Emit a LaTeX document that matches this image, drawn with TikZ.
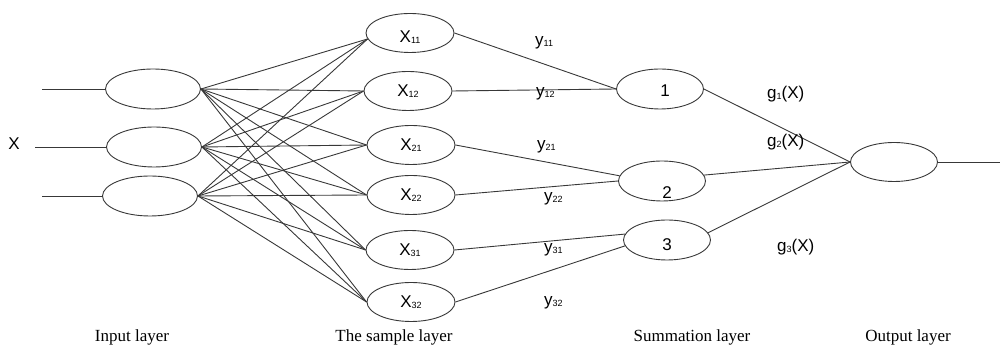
\documentclass[tikz,border=0pt]{standalone}
\usepackage{fontspec}
\setmainfont{Liberation Serif}
\setsansfont{Liberation Sans}
\usetikzlibrary{shapes.geometric}
\newcommand{\smallsub}[1]{\raisebox{-0.5pt}{\fontsize{9}{9}\selectfont #1}}
\newcommand{\lowtext}[2]{\raisebox{#1}[0pt][0pt]{#2}}
\tikzset{
  ln/.style={draw=black!78, line width=0.9pt},
  ell/.style={ellipse, draw=black!78, line width=0.9pt, inner sep=0pt, font=\sffamily\fontsize{17}{17}\selectfont},
  inell/.style={ell, minimum width=95pt, minimum height=40pt},
  smell/.style={ell, minimum width=88pt, minimum height=39pt},
  suell/.style={ell, minimum width=87pt, minimum height=40pt},
  lab/.style={font=\sffamily\fontsize{17}{17}\selectfont, inner sep=0pt, anchor=base west},
  layer/.style={font=\rmfamily\fontsize{17}{17}\selectfont, inner sep=0pt, anchor=base}
}
\begin{document}
\begin{tikzpicture}[x=1pt,y=1pt]
\useasboundingbox (0,0) rectangle (1002,347);
% input layer
\node[inell] (I1) at (153,258) {};
\node[inell] (I2) at (154,200) {};
\node[inell] (I3) at (150,151) {};
\coordinate (a1) at (42,258);
\coordinate (a2) at (35,200);
\coordinate (a3) at (42,151);
\node[font=\sffamily\fontsize{17}{17}\selectfont, inner sep=0pt] (xin) at (14,203) {X};
% sample layer
\node[smell] (X11) at (410,314) {\lowtext{-10pt}{X\smallsub{11}}};
\node[smell] (X12) at (408,256) {X\smallsub{12}};
\node[smell] (X21) at (411,202) {X\smallsub{21}};
\node[smell] (X22) at (411,152) {X\smallsub{22}};
\node[smell] (X31) at (410,97) {X\smallsub{31}};
\node[smell] (X32) at (411,45) {X\smallsub{32}};
% summation layer
\node[suell] (S1) at (660,258) {\hspace{10pt}\lowtext{-8pt}{1}};
\node[suell] (S2) at (662,166) {\hspace{10pt}\lowtext{-18pt}{2}};
\node[suell] (S3) at (667,107) {\lowtext{-11pt}{3}};
% output layer
\node[suell, minimum height=39pt] (O) at (894,185) {};
\coordinate (oend) at (1000,185);
% input lines
\draw[ln] (a1) -- (I1.west);
\draw[ln] (a2) -- (I2.west);
\draw[ln] (a3) -- (I3.west);
% full connections input -> sample
\foreach \i in {I1,I2,I3}{
  \draw[ln] (\i.east) -- (X11.188);
  \foreach \s in {X12,X21,X22,X31,X32}{
    \draw[ln] (\i.east) -- (\s.west);
  }
}
% sample -> summation
\draw[ln] (X11.east) -- (S1.west);
\draw[ln] (X12.east) -- (S1.west);
\draw[ln] (X21.east) -- (S2.173);
\draw[ln] (X22.east) -- (S2.west);
\draw[ln] (X31.east) -- (S3.172);
\draw[ln] (X32.east) -- (S3.188);
% summation -> output
\draw[ln] (S1.east) -- (O.west);
\draw[ln] (S2.8) -- (O.west);
\draw[ln] (S3.10) -- (O.west);
\draw[ln] (O.east) -- (oend);
% y labels
\node[lab] (y11) at (535,301) {y\smallsub{11}};
\node[lab] (y12) at (536,250) {y\smallsub{12}};
\node[lab] (y21) at (537,197) {y\smallsub{21}};
\node[lab] (y22) at (544,145) {y\smallsub{22}};
\node[lab] (y31) at (544,94) {y\smallsub{31}};
\node[lab] (y32) at (544,41) {y\smallsub{32}};
% g labels
\node[lab] (g1) at (767,248) {g\smallsub{1}(X)};
\node[lab] (g2) at (767,200) {g\smallsub{2}(X)};
\node[lab] (g3) at (777,95) {g\smallsub{3}(X)};
% layer labels
\node[layer] (L1) at (132,5) {Input layer};
\node[layer] (L2) at (394,5) {The sample layer};
\node[layer] (L3) at (692,5) {Summation layer};
\node[layer] (L4) at (908,5) {Output layer};
\end{tikzpicture}
\end{document}
